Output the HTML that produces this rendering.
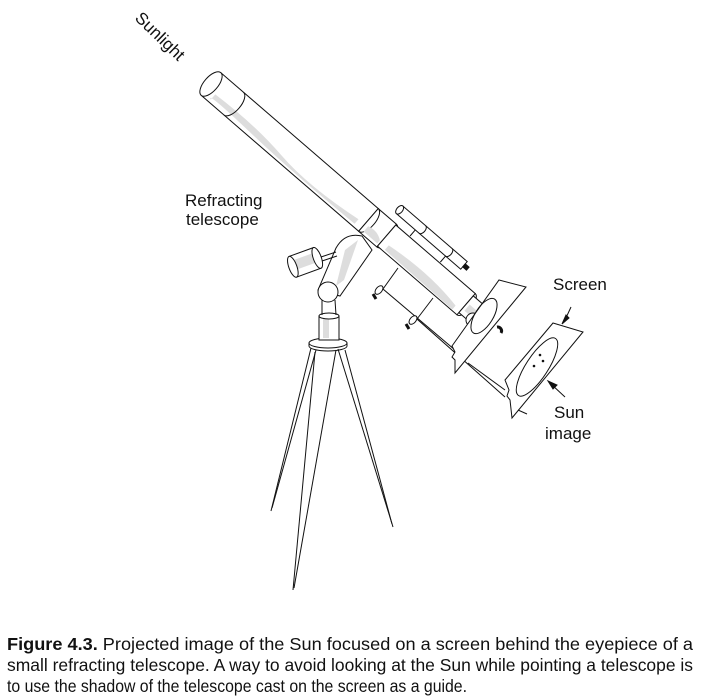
<!DOCTYPE html>
<html><head><meta charset="utf-8"><style>
html,body{margin:0;padding:0;background:#fff;}
svg{display:block;}
text{font-family:"Liberation Sans",sans-serif;fill:#111;}
</style></head><body>
<svg width="702" height="698" viewBox="0 0 702 698" xmlns="http://www.w3.org/2000/svg">
<g fill="none" stroke="#111" stroke-width="1">
<!-- tripod -->
<line x1="311" y1="348" x2="271" y2="511"/><line x1="316" y1="350" x2="272" y2="508"/>
<line x1="315" y1="352" x2="293" y2="590"/><line x1="336" y1="350" x2="294" y2="588"/>
<line x1="338" y1="349" x2="393" y2="527"/><line x1="345" y1="350" x2="392" y2="524"/>
<ellipse cx="328" cy="343" rx="19" ry="5" fill="#fff"/>
<path d="M309 343 v3 a19 5 0 0 0 38 0 v-3"/>
<!-- column -->
<rect x="319" y="316" width="20" height="24" fill="#fff"/>
<rect x="323" y="318" width="6" height="20" fill="#ddd" stroke="none"/>
<ellipse cx="329" cy="316" rx="10" ry="3" fill="#fff"/>
<path d="M322 300 L322 315 M335 300 L336 315"/>
<!-- fork arm -->
<path d="M336 248 Q345 232 362 236 L372 250 L340 296 L318 290 Z" fill="#fff"/>
<path d="M345 250 L358 240 L344 280 L336 286 Z" fill="#ddd" stroke="none"/>
<circle cx="328" cy="292" r="10" fill="#fff"/>
<!-- counterweight -->
<line x1="318" y1="258" x2="336" y2="252"/><line x1="319" y1="262" x2="337" y2="256"/>
<g transform="translate(306,262) rotate(-20)">
<rect x="-14" y="-11" width="26" height="22" fill="#fff"/>
<rect x="-10" y="-6" width="18" height="10" fill="#ddd" stroke="none"/>
<ellipse cx="-14" cy="0" rx="4" ry="11" fill="#fff"/>
<ellipse cx="12" cy="0" rx="4" ry="11" fill="#fff"/>
</g>
<!-- bracket / mounting rings -->
<path d="M398 268 L383 289 L455 350"/>
<path d="M433 298 L417 319 L505 397"/>
<path d="M383 289 L378 291 M417 319 L412 321"/>
<ellipse cx="379" cy="290" rx="3" ry="5" transform="rotate(40 379 290)" fill="#fff"/>
<ellipse cx="413" cy="320" rx="3" ry="5" transform="rotate(40 413 320)" fill="#fff"/>
<line x1="373" y1="294" x2="376" y2="299" stroke-width="3"/>
<line x1="406" y1="324" x2="409" y2="329" stroke-width="3"/>
<!-- telescope tube in local coords -->
<g transform="translate(211,84) rotate(40.8)">
<rect x="0" y="-15" width="208" height="30" fill="#fff"/>
<path d="M10 5 Q60 2 100 8 T200 6 L200 12 Q120 14 60 11 T10 12 Z" fill="#ddd" stroke="none"/>
<path d="M30 -15 a7 15 0 0 1 0 30"/>
<rect x="208" y="-15" width="24" height="30" fill="#fff"/>
<path d="M208 -15 a7 15 0 0 1 0 30 M232 -15 a7 15 0 0 1 0 30"/>
<path d="M212 5 Q222 2 230 8 L230 12 L212 12Z" fill="#ddd" stroke="none"/>
<rect x="232" y="-14" width="105" height="28" fill="#fff"/>
<path d="M240 6 Q290 0 330 8 L330 13 L240 12Z" fill="#ddd" stroke="none"/>
<path d="M337 -14 a6 14 0 0 1 0 28"/>
<rect x="337" y="-11" width="18" height="22" fill="#fff"/>
<rect x="340" y="-2" width="14" height="8" fill="#ddd" stroke="none"/>
<path d="M355 -11 a4 11 0 0 1 0 22"/>
<ellipse cx="0" cy="0" rx="7" ry="15" fill="#fff"/>
<!-- finder -->
<rect x="225" y="-33" width="85" height="10" fill="#fff"/>
<ellipse cx="225" cy="-28" rx="3" ry="5" fill="#fff"/>
<path d="M250 -23 v8 M290 -23 v8 M255 -33 a3 5 0 0 1 0 10 M290 -33 a3 5 0 0 1 0 10"/>
<rect x="310" y="-30" width="5" height="4" fill="#111"/>
</g>
<circle cx="473" cy="320" r="7" fill="#fff"/>
<!-- screen 1 -->
<path d="M499 280 L526 287 L455 373 L455 360 L452 357 L455 352 L452 346 Z" fill="#fff"/>
<ellipse cx="484" cy="316" rx="20" ry="9" transform="rotate(-58 484 316)"/>
<path d="M497 327 a4 4 0 0 1 4 6" stroke-width="3"/>
<!-- shadow tube lines -->
<line x1="468" y1="363" x2="505" y2="390"/>
<!-- screen 2 -->
<path d="M553 323 L583 332 L512 418 L510 400 L507 396 L509 390 L505 380 Z" fill="#fff"/>
<ellipse cx="537" cy="367" rx="34" ry="11" transform="rotate(-57 537 367)"/>
<circle cx="540" cy="355" r="0.8" fill="#111"/><circle cx="543" cy="361" r="0.8" fill="#111"/><circle cx="534" cy="366" r="0.8" fill="#111"/>
<line x1="518" y1="410" x2="527" y2="414"/>
<!-- arrows -->
<line x1="571" y1="307" x2="565" y2="320"/>
<path d="M562 324 L566 315 L569 318 Z" fill="#111"/>
<line x1="565" y1="397" x2="551" y2="384"/>
<path d="M548 381 L557 385 L553 389 Z" fill="#111"/>
</g>
<text x="134" y="19" font-size="17" transform="rotate(44 134 19)">Sunlight</text>
<text x="185" y="206" font-size="17">Refracting</text>
<text x="186" y="225" font-size="17">telescope</text>
<text x="553" y="290" font-size="17">Screen</text>
<text x="554" y="418" font-size="17">Sun</text>
<text x="545" y="439" font-size="17">image</text>
<g font-size="17.5">
<text x="7" y="650" textLength="686" lengthAdjust="spacingAndGlyphs"><tspan font-weight="bold">Figure 4.3.</tspan>    Projected image of the Sun focused on a screen behind the eyepiece of a</text>
<text x="7" y="671" textLength="686" lengthAdjust="spacingAndGlyphs">small refracting telescope. A way to avoid looking at the Sun while pointing a telescope is</text>
<text x="7" y="692" textLength="460" lengthAdjust="spacingAndGlyphs">to use the shadow of the telescope cast on the screen as a guide.</text>
</g>
</svg>
</body></html>
